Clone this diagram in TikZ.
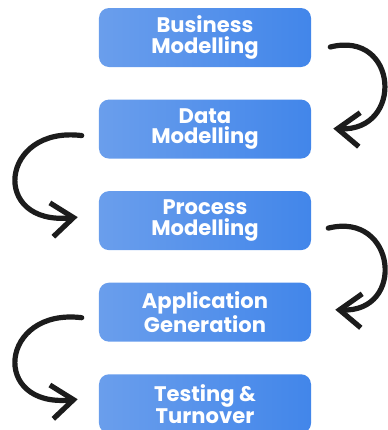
\documentclass[tikz,border=0pt]{standalone}
\usepackage{fontspec}
\setmainfont{Poppins}
\usetikzlibrary{positioning,arrows.meta}

\definecolor{boxlight}{RGB}{106,158,236}
\definecolor{boxdark}{RGB}{66,134,234}
\definecolor{ink}{RGB}{28,28,28}

\tikzset{
  phase/.style={rounded corners=2.5mm, left color=boxlight, right color=boxdark,
    text=white, minimum width=53mm, minimum height=14.75mm, align=center,
    font=\fontsize{15}{14.5}\selectfont\bfseries},
  turn/.style={line width=1.3mm, draw=ink, line cap=round, line join=round,
    -{Straight Barb[length=5.5mm,width=8.5mm]}}
}

\begin{document}
\begin{tikzpicture}[x=0.25mm, y=-0.25mm]
   \useasboundingbox (0,0) rectangle (388,430);

   \node [phase] (biz) at (205,37.5) {Business\\Modelling};
   \node [phase, below=8mm of biz] (data) {Data\\Modelling};
   \node [phase, below=8mm of data] (proc) {Process\\Modelling};
   \node [phase, below=8mm of proc] (app) {Application\\Generation};
   \node [phase, below=8mm of app] (test) {Testing \&\\Turnover};

   % right hand turns
   \draw [turn] ([shift={(19,9.5)}]biz.east) .. controls +(68,-17) and +(71,3) .. ([shift={(22,-0.5)}]data.east);
   \draw [turn] ([shift={(17,7.5)}]proc.east) .. controls +(68,-17) and +(71,3) .. ([shift={(24,-2.5)}]app.east);

   % left hand turns
   \draw [turn] ([shift={(-17,6.5)}]data.west) .. controls +(-82,-10) and +(-88,9) .. ([shift={(-21,-3.5)}]proc.west);
   \draw [turn] ([shift={(-17,5.5)}]app.west) .. controls +(-82,-10) and +(-88,9) .. ([shift={(-21,-4.5)}]test.west);

\end{tikzpicture}
\end{document}
